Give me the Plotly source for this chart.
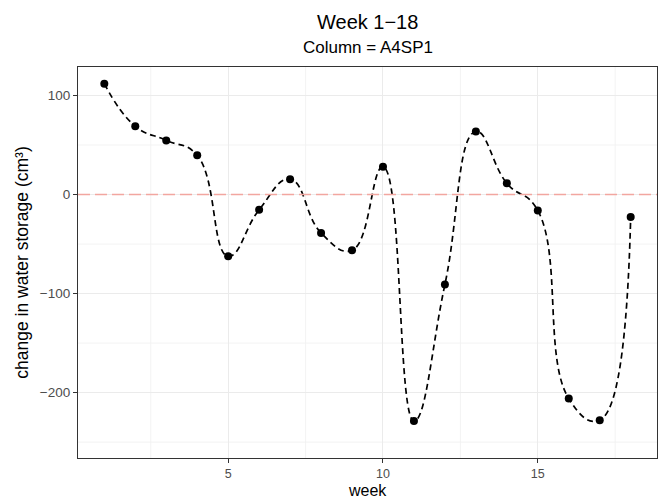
import plotly.graph_objects as go

weeks = list(range(1, 19))
storage_change = [112, 69, 54.7, 39.6, -62.3, -15.4, 15.5, -38.8, -56.3,
                  28.1, -228.7, -90.8, 63.7, 11.4, -16.1, -206, -227.8, -22.7]
x_ticks = [5, 10, 15]
y_ticks = [-200, -100, 0, 100]
y_tick_labels = ["\u2212200", "\u2212100", "0", "100"]
x_minor = [2.5, 7.5, 12.5, 17.5]
y_minor = [-250, -150, -50, 50]

FONT = "Liberation Sans, Arial, Helvetica, sans-serif"

fig = go.Figure()

# spline curve
fig.add_trace(go.Scatter(
    x=weeks, y=storage_change, mode="lines",
    line=dict(color="black", width=1.7, dash="6px,4px", shape="spline", smoothing=1.3),
    hoverinfo="skip", showlegend=False,
))
# points
fig.add_trace(go.Scatter(
    x=weeks, y=storage_change, mode="markers",
    marker=dict(color="black", size=8),
    showlegend=False,
))

# zero reference line
fig.add_shape(type="line", xref="paper", x0=0, x1=1, yref="y", y0=0, y1=0,
              line=dict(color="#F2A6A0", width=1.6, dash="12px,5px"),
              layer="above")

# minor gridlines
for xm in x_minor:
    fig.add_shape(type="line", xref="x", x0=xm, x1=xm, yref="paper", y0=0, y1=1,
                  line=dict(color="#F2F2F2", width=0.9), layer="below")
for ym in y_minor:
    fig.add_shape(type="line", xref="paper", x0=0, x1=1, yref="y", y0=ym, y1=ym,
                  line=dict(color="#F2F2F2", width=0.9), layer="below")

fig.update_layout(
    width=659, height=500,
    margin=dict(l=78, r=2, t=67, b=42),
    paper_bgcolor="white", plot_bgcolor="white",
    font=dict(family=FONT, color="black"),
    showlegend=False,
    annotations=[
        dict(text="Week 1\u221218", x=0.5, y=1, xref="paper", yref="paper",
             yshift=45, showarrow=False, font=dict(size=20, family=FONT, color="black"),
             xanchor="center", yanchor="middle"),
        dict(text="Column = A4SP1", x=0.5, y=1, xref="paper", yref="paper",
             yshift=20, showarrow=False, font=dict(size=17, family=FONT, color="black"),
             xanchor="center", yanchor="middle"),
        dict(text="week", x=0.5, y=0, xref="paper", yref="paper",
             yshift=-42, showarrow=False, font=dict(size=16, family=FONT, color="black"),
             xanchor="center", yanchor="bottom", borderpad=0),
    ],
)

fig.update_xaxes(
    range=[0.15, 18.85], tickvals=x_ticks, ticktext=[str(v) for v in x_ticks],
    showgrid=True, gridcolor="#EBEBEB", gridwidth=1.2,
    zeroline=False, showline=True, mirror=True, linecolor="#333333", linewidth=1.1,
    ticks="outside", ticklen=3.5, tickcolor="#333333", tickwidth=1.1,
    tickfont=dict(size=12.5, color="#4D4D4D", family=FONT),
)
fig.update_yaxes(
    range=[-266, 128.8], tickvals=y_ticks, ticktext=y_tick_labels,
    showgrid=True, gridcolor="#EBEBEB", gridwidth=1.2,
    zeroline=False, showline=True, mirror=True, linecolor="#333333", linewidth=1.1,
    ticks="outside", ticklen=4, tickcolor="#333333", tickwidth=1.1,
    tickfont=dict(size=13.5, color="#4D4D4D", family=FONT),
    title=dict(text="change in water storage (cm\u00b3)", font=dict(size=17.5, color="black", family=FONT), standoff=6),
)

fig.write_html("out.html")
